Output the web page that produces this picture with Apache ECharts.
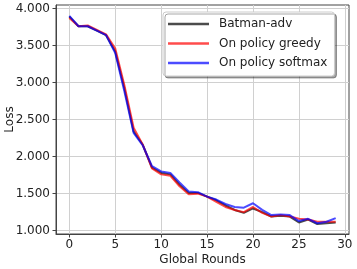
<!DOCTYPE html>
<html>
<head>
<meta charset="utf-8">
<script src="https://cdn.jsdelivr.net/npm/echarts@6/dist/echarts.min.js"></script>
<style>html,body{margin:0;padding:0;background:#fff}#c{width:357px;height:269px}</style>
</head>
<body>
<div id="c"></div>
<script>
const rounds = [0,1,2,3,4,5,6,7,8,9,10,11,12,13,14,15,16,17,18,19,20,21,22,23,24,25,26,27,28,29];
const batman = [3.89,3.76,3.76,3.70,3.64,3.42,2.92,2.34,2.16,1.85,1.78,1.76,1.62,1.51,1.51,1.46,1.41,1.34,1.28,1.24,1.30,1.25,1.19,1.20,1.19,1.11,1.15,1.09,1.10,1.11];
const greedy = [3.87,3.76,3.77,3.71,3.65,3.46,2.96,2.39,2.16,1.84,1.76,1.74,1.60,1.49,1.50,1.46,1.39,1.32,1.28,1.25,1.32,1.24,1.19,1.21,1.19,1.16,1.15,1.12,1.12,1.12];
const softmax = [3.90,3.76,3.76,3.70,3.64,3.40,2.88,2.32,2.15,1.87,1.80,1.78,1.65,1.53,1.52,1.46,1.42,1.36,1.32,1.31,1.37,1.28,1.21,1.22,1.21,1.13,1.16,1.10,1.12,1.17];
const seriesNames = ['Batman-adv','On policy greedy','On policy softmax'];
const xTicks = [0,5,10,15,20,25,30];
const yTicks = [1.0,1.5,2.0,2.5,3.0,3.5,4.0];

const font = 'DejaVu Sans';
const colors = ['rgba(0,0,0,0.7)','rgba(255,0,0,0.7)','rgba(0,0,255,0.7)'];
const datas = [batman, greedy, softmax];

const chart = echarts.init(document.getElementById('c'), null, {renderer:'canvas'});
chart.setOption({
  animation:false,
  backgroundColor:'#fff',
  grid:{left:56,right:8,top:5,bottom:35,containLabel:false,outerBoundsMode:'none',show:true,borderColor:'#444',borderWidth:1,backgroundColor:'transparent'},
  legend:{
    orient:'vertical', left:163, top:12,
    data:seriesNames,
    icon:'rect', itemWidth:41, itemHeight:2.5, itemGap:5.5,
    padding:[5,7,6,5],
    backgroundColor:'#fff', borderColor:'#ccc', borderWidth:1, borderRadius:3,
    shadowColor:'rgba(0,0,0,0.35)', shadowOffsetX:2, shadowOffsetY:2, shadowBlur:0,
    textStyle:{fontFamily:font,fontSize:12,color:'#222',lineHeight:14,padding:[0,0,0,5]}
  },
  xAxis:{
    type:'value', min:-1.45, max:30.45,
    name:'Global Rounds', nameLocation:'middle', nameGap:20, nameMoveOverlap:false,
    nameTextStyle:{fontFamily:font,fontSize:12,color:'#222'},
    axisLine:{show:true,onZero:false,lineStyle:{color:'#444',width:1}},
    axisTick:{show:true,inside:false,length:3.5,lineStyle:{color:'#444'},customValues:xTicks},
    axisLabel:{fontFamily:font,fontSize:12,color:'#222',margin:5,customValues:xTicks},
    splitLine:{show:true,lineStyle:{color:'#d0d0d0',width:1}}
  },
  yAxis:{
    type:'value', min:0.955, max:4.047,
    name:'Loss', nameLocation:'middle', nameGap:40, nameRotate:90, nameMoveOverlap:false,
    nameTextStyle:{fontFamily:font,fontSize:12,color:'#222'},
    axisLine:{show:true,onZero:false,lineStyle:{color:'#444',width:1}},
    axisTick:{show:true,inside:false,length:3.5,lineStyle:{color:'#444'},customValues:yTicks},
    axisLabel:{fontFamily:font,fontSize:12,color:'#222',margin:6,customValues:yTicks,formatter:v=>v.toFixed(3)},
    splitLine:{show:true,lineStyle:{color:'#d0d0d0',width:1}}
  },
  series: seriesNames.map((n,i)=>({
    name:n, type:'line', showSymbol:false, symbol:'none',
    data: rounds.map((r,j)=>[r,datas[i][j]]),
    color: colors[i],
    lineStyle:{width:2,color:colors[i]},
    z:2+i
  }))
});
</script>
</body>
</html>
